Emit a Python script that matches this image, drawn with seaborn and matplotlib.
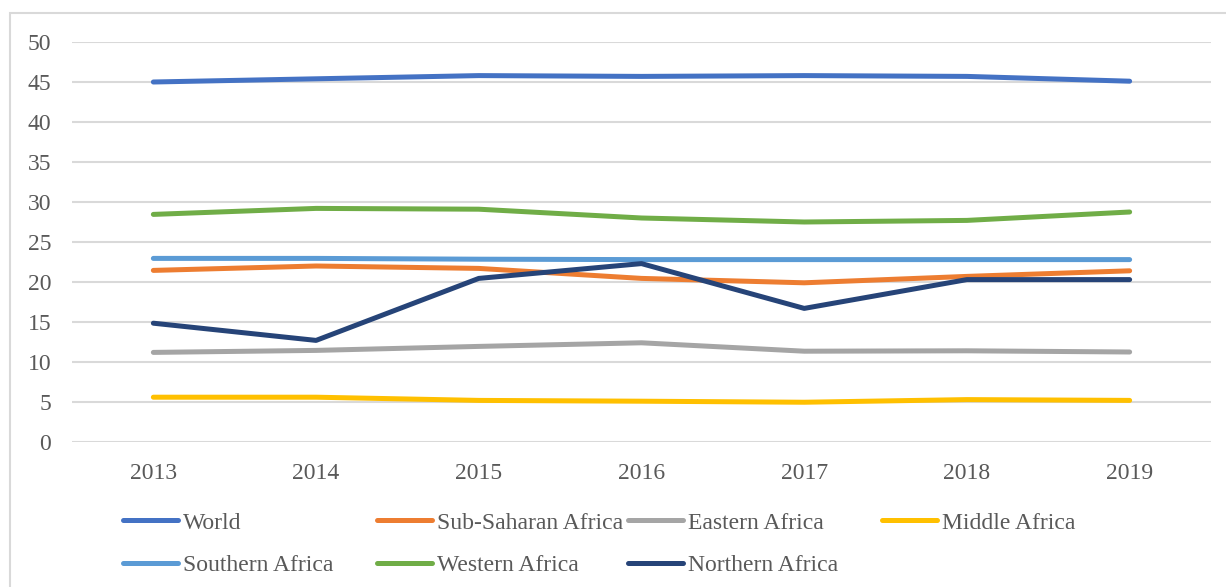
import pandas as pd
import matplotlib.pyplot as plt
import seaborn as sns
from matplotlib.patches import Rectangle

# Values
years = [2013, 2014, 2015, 2016, 2017, 2018, 2019]
world = [45.0, 45.4, 45.8, 45.7, 45.8, 45.7, 45.1]
sub_saharan = [21.45, 22.0, 21.7, 20.45, 19.9, 20.7, 21.4]
eastern = [11.2, 11.45, 11.95, 12.4, 11.35, 11.4, 11.25]
middle = [5.6, 5.6, 5.2, 5.1, 4.97, 5.3, 5.2]
southern = [22.95, 22.95, 22.85, 22.8, 22.8, 22.8, 22.8]
western = [28.45, 29.2, 29.1, 28.0, 27.5, 27.7, 28.75]
northern = [14.85, 12.7, 20.45, 22.3, 16.7, 20.3, 20.3]

series_names = ['World', 'Sub-Saharan Africa', 'Eastern Africa', 'Middle Africa',
                'Southern Africa', 'Western Africa', 'Northern Africa']
series_values = [world, sub_saharan, eastern, middle, southern, western, northern]
colors = ['#4472C4', '#ED7D31', '#A5A5A5', '#FFC000', '#5B9BD5', '#70AD47', '#264478']

# Long-form table for seaborn
df = pd.DataFrame({
    'Year': years * len(series_names),
    'Value': [v for vals in series_values for v in vals],
    'Region': [name for name in series_names for _ in years],
})

sns.set_theme(style='white')
plt.rcParams['font.family'] = ['Liberation Serif', 'DejaVu Serif']

W, H = 1226, 587
fig = plt.figure(figsize=(W / 100, H / 100), dpi=100)
ax = fig.add_axes([72 / W, 1 - 442 / H, (1211 - 72) / W, 400 / H])

sns.lineplot(data=df, x='Year', y='Value', hue='Region', hue_order=series_names,
             palette=colors, linewidth=3.6, legend=False, ax=ax)
for line in ax.get_lines():
    line.set_solid_capstyle('round')

ax.set_xlim(2012.5, 2019.5)
ax.set_ylim(0, 50)
ax.set_xticks(years)
ax.set_xticklabels([str(y) for y in years])
ax.set_yticks(range(0, 51, 5))
ax.set_xlabel('')
ax.set_ylabel('')
ax.grid(axis='y', color='#D9D9D9', linewidth=1.5)
ax.grid(axis='x', visible=False)
ax.set_axisbelow(True)
for side in ['top', 'right', 'left', 'bottom']:
    ax.spines[side].set_visible(False)
ax.tick_params(axis='both', length=0, labelsize=17, labelcolor='#595959')
ax.tick_params(axis='y', pad=15)
ax.tick_params(axis='x', pad=15)

# Chart border (cut off on the right and bottom, as in the reference)
fig.patches.append(Rectangle((10 / W, -0.1), 1.2, 1 - 13 / H + 0.1,
                             transform=fig.transFigure, fill=False,
                             edgecolor='#D9D9D9', linewidth=1.5))

# Legend: four columns placed like the Excel layout
lines = ax.get_lines()
handles = dict(zip(series_names, lines))
columns = [
    (123, ['World', 'Southern Africa']),
    (377, ['Sub-Saharan Africa', 'Western Africa']),
    (628, ['Eastern Africa', 'Northern Africa']),
    (882, ['Middle Africa']),
]
for x_px, names in columns:
    leg = fig.legend([handles[n] for n in names], names,
                     loc='upper left', bbox_to_anchor=(x_px / W, 1 - 512 / H),
                     frameon=False, fontsize=17, handlelength=2.35,
                     handletextpad=0.2, labelspacing=0.9,
                     borderpad=0, borderaxespad=0)
    for t in leg.get_texts():
        t.set_color('#595959')

fig.savefig('out.png', dpi=100)
